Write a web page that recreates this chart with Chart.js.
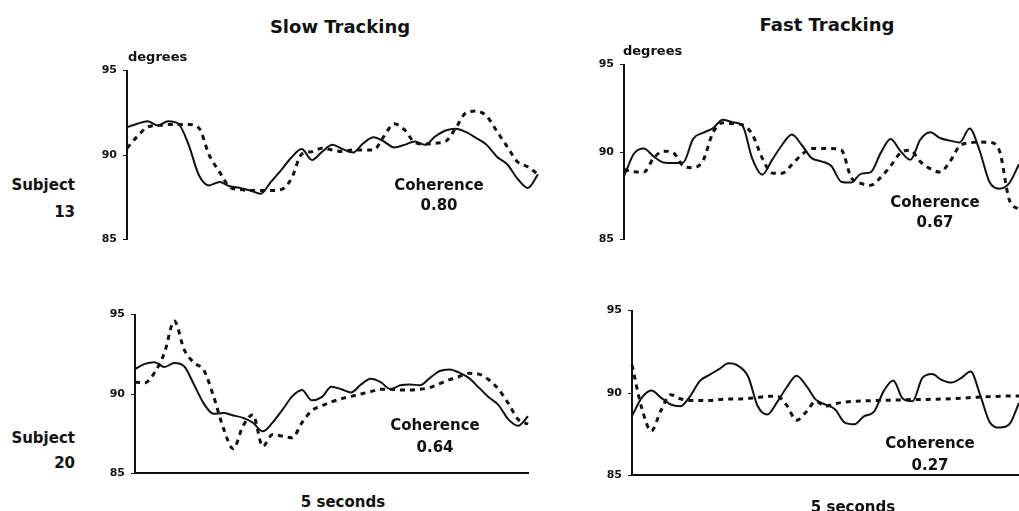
<!DOCTYPE html>
<html>
<head>
<meta charset="utf-8">
<script src="https://cdn.jsdelivr.net/npm/chart.js@4.4.1/dist/chart.umd.min.js"></script>
<style>
  html, body { margin: 0; padding: 0; background: #fff; }
  #page { position: relative; width: 1019px; height: 511px; overflow: hidden;
          font-family: "DejaVu Sans", sans-serif; font-weight: bold; color: #111; }
  canvas { position: absolute; }
  .lbl { position: absolute; white-space: nowrap; line-height: 1; transform: translate(-50%, -50%); }
  .lbl.r { transform: translate(-100%, -50%); }
  .lbl.l { transform: translate(0, -50%); }
</style>
</head>
<body>
<div id="page">
  <canvas id="slow13"></canvas>
  <canvas id="fast13"></canvas>
  <canvas id="slow20"></canvas>
  <canvas id="fast20"></canvas>

  <div class="lbl" style="left:340px;top:27px;font-size:18px">Slow Tracking</div>
  <div class="lbl" style="left:827px;top:25px;font-size:18px">Fast Tracking</div>
  <div class="lbl l" style="left:128px;top:56px;font-size:13px">degrees</div>
  <div class="lbl l" style="left:623px;top:50px;font-size:13px">degrees</div>

  <div class="lbl r" style="left:75px;top:185px;font-size:15px">Subject</div>
  <div class="lbl r" style="left:75px;top:212px;font-size:15px">13</div>
  <div class="lbl r" style="left:75px;top:438px;font-size:15px">Subject</div>
  <div class="lbl r" style="left:75px;top:463px;font-size:15px">20</div>

  <div class="lbl" style="left:439px;top:185px;font-size:15px">Coherence</div>
  <div class="lbl" style="left:439px;top:205px;font-size:15px">0.80</div>
  <div class="lbl" style="left:935px;top:202px;font-size:15px">Coherence</div>
  <div class="lbl" style="left:935px;top:222px;font-size:15px">0.67</div>
  <div class="lbl" style="left:435px;top:425px;font-size:15px">Coherence</div>
  <div class="lbl" style="left:435px;top:447px;font-size:15px">0.64</div>
  <div class="lbl" style="left:930px;top:443px;font-size:15px">Coherence</div>
  <div class="lbl" style="left:930px;top:465px;font-size:15px">0.27</div>

  <div class="lbl" style="left:343px;top:502px;font-size:15px">5 seconds</div>
  <div class="lbl" style="left:853px;top:507px;font-size:15px">5 seconds</div>
</div>

<script>
// 41 samples across 5 seconds, one every 0.125 s
const sampleCount = 41;
const yTicks = [85, 90, 95];

// slow tracking, subject 13 (solid = target, dotted = subject)
const slowTarget13 = [91.65, 91.85, 92.0, 91.75, 92.0, 91.85, 90.6, 88.8, 88.2, 88.4,
  88.15, 88.05, 87.9, 87.7, 88.4, 89.1, 89.85, 90.35, 89.7, 90.2,
  90.6, 90.35, 90.15, 90.7, 91.05, 90.8, 90.45, 90.6, 90.8, 90.6,
  91.1, 91.45, 91.55, 91.35, 91.0, 90.6, 89.9, 89.45, 88.6, 88.05, 88.85];
const slowSubject13 = [90.4, 91.1, 91.65, 91.75, 91.8, 91.8, 91.8, 91.6, 90.0, 89.0,
  88.1, 87.95, 87.9, 87.9, 87.9, 87.95, 88.6, 90.05, 90.2, 90.4,
  90.3, 90.2, 90.3, 90.3, 90.3, 91.1, 91.85, 91.5, 90.75, 90.65,
  90.7, 90.8, 91.6, 92.5, 92.6, 92.3, 91.4, 90.5, 89.6, 89.3, 88.85];

// fast tracking, subject 13
const fastTarget13 = [88.6, 89.9, 90.2, 89.75, 89.4, 89.37, 89.4, 90.75, 91.1, 91.35,
  91.85, 91.7, 91.5, 89.6, 88.7, 89.55, 90.4, 91.0, 90.4, 89.65,
  89.46, 89.2, 88.3, 88.25, 88.75, 88.85, 89.95, 90.75, 90.05, 89.55,
  90.7, 91.13, 90.8, 90.65, 90.55, 91.35, 90.1, 88.3, 87.9, 88.2, 89.3];
const fastSubject13 = [89.0, 88.87, 88.85, 89.65, 90.05, 89.95, 89.2, 89.1, 89.5, 91.1,
  91.68, 91.63, 91.55, 91.0, 89.65, 88.8, 88.78, 89.28, 89.85, 90.2,
  90.2, 90.2, 90.12, 88.55, 88.2, 88.1, 88.55, 89.2, 89.95, 90.1,
  89.45, 89.05, 88.85, 89.45, 90.35, 90.52, 90.57, 90.55, 90.1, 87.3, 86.7];

// slow tracking, subject 20
const slowTarget20 = [91.57, 91.9, 92.0, 91.7, 91.95, 91.75, 90.6, 89.4, 88.75, 88.8,
  88.65, 88.5, 88.2, 87.65, 88.2, 89.0, 89.85, 90.25, 89.6, 89.8,
  90.45, 90.3, 90.1, 90.6, 90.96, 90.75, 90.3, 90.55, 90.6, 90.55,
  91.0, 91.45, 91.55, 91.35, 91.0, 90.4, 89.8, 89.3, 88.4, 88.0, 88.6];
const slowSubject20 = [90.75, 90.7, 91.35, 92.6, 94.6, 92.8, 91.97, 91.5, 89.85, 87.85,
  86.55, 88.0, 88.7, 86.7, 87.45, 87.35, 87.25, 88.2, 88.95, 89.25,
  89.5, 89.7, 89.85, 90.0, 90.15, 90.3, 90.3, 90.25, 90.25, 90.3,
  90.4, 90.65, 90.9, 91.1, 91.3, 91.25, 90.9, 90.3, 89.4, 88.4, 88.1];

// fast tracking, subject 20
const fastTarget20 = [88.6, 89.7, 90.15, 89.72, 89.3, 89.2, 89.8, 90.72, 91.1, 91.45,
  91.8, 91.64, 91.0, 89.2, 88.7, 89.45, 90.35, 91.05, 90.45, 89.6,
  89.3, 89.0, 88.2, 88.1, 88.6, 88.85, 90.1, 90.76, 89.65, 89.5,
  90.9, 91.15, 90.8, 90.63, 90.9, 91.3, 89.85, 88.2, 87.9, 88.1, 89.4];
const fastSubject20 = [91.7, 89.1, 87.7, 88.95, 89.9, 89.65, 89.55, 89.55, 89.55, 89.6,
  89.63, 89.63, 89.67, 89.72, 89.8, 89.8, 89.25, 88.35, 88.85, 89.5,
  89.2, 89.35, 89.45, 89.5, 89.52, 89.54, 89.55, 89.57, 89.58, 89.6,
  89.6, 89.62, 89.63, 89.65, 89.68, 89.72, 89.75, 89.78, 89.8, 89.82, 89.82];

const times = Array.from({ length: sampleCount }, (_, i) => (i * 0.125).toFixed(3));

// where each panel's axes sit on the page
const panels = [
  { id: "slow13", axisX: 127, top: 68, bottom: 242, right: 538, target: slowTarget13, subject: slowSubject13, xLine: false },
  { id: "fast13", axisX: 624, top: 62, bottom: 242, right: 1019, target: fastTarget13, subject: fastSubject13, xLine: false },
  { id: "slow20", axisX: 135, top: 312, bottom: 476, right: 528, target: slowTarget20, subject: slowSubject20, xLine: true },
  { id: "fast20", axisX: 632, top: 308, bottom: 478, right: 1019, target: fastTarget20, subject: fastSubject20, xLine: true },
];

const AXIS_W = 40;
const PAD = 10;
const ink = "#111";

panels.forEach((p) => {
  const cv = document.getElementById(p.id);
  const padRight = p.right >= 1019 ? 0 : 4;
  const left = p.axisX - AXIS_W;
  cv.width = p.right - left + padRight;
  cv.height = p.bottom - p.top + 2 * PAD;
  cv.style.left = left + "px";
  cv.style.top = (p.top - PAD) + "px";

  new Chart(cv, {
    type: "line",
    data: {
      labels: times,
      datasets: [
        {
          data: p.target,
          borderColor: ink,
          borderWidth: 2,
          pointRadius: 0,
          cubicInterpolationMode: "monotone",
        },
        {
          data: p.subject,
          borderColor: ink,
          borderWidth: 3,
          borderDash: [5, 5],
          pointRadius: 0,
          cubicInterpolationMode: "monotone",
        },
      ],
    },
    options: {
      responsive: false,
      animation: false,
      devicePixelRatio: 1,
      events: [],
      layout: { padding: { left: 0, right: padRight, top: PAD, bottom: PAD } },
      plugins: { legend: { display: false }, tooltip: { enabled: false } },
      scales: {
        x: {
          type: "category",
          offset: false,
          grid: { display: false },
          ticks: { display: false },
          border: { display: p.xLine, color: ink, width: 2 },
          afterFit: (s) => { s.height = 0; },
        },
        y: {
          min: 85,
          max: 95,
          afterBuildTicks: (s) => { s.ticks = yTicks.map((v) => ({ value: v })); },
          ticks: {
            color: ink,
            padding: 6,
            font: { family: "DejaVu Sans", weight: "bold", size: 11 },
          },
          grid: { display: true, drawOnChartArea: false, drawTicks: true, tickLength: 4, color: ink, lineWidth: 1 },
          border: { display: true, color: ink, width: 2 },
          afterFit: (s) => { s.width = AXIS_W; },
        },
      },
    },
  });
});
</script>
</body>
</html>
